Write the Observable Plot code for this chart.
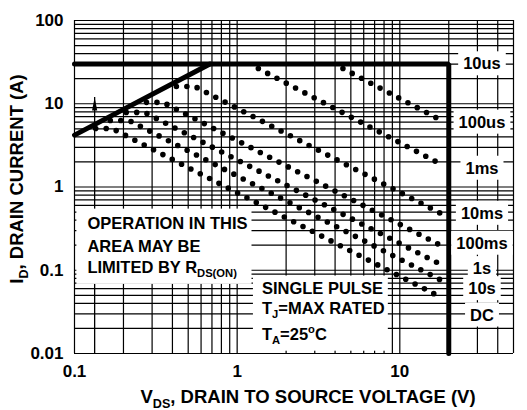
<!DOCTYPE html>
<html><head><meta charset="utf-8">
<script src="https://cdn.jsdelivr.net/npm/d3@7"></script>
<script src="https://cdn.jsdelivr.net/npm/@observablehq/plot@0.6"></script>
<style>
html,body{margin:0;padding:0;background:#fff;}
#chart svg{display:block;}
</style></head><body><div id="chart"></div>
<script>
// ---- axes ----
const xTicks = [0.1, 1, 10, 50];
const xTickLabels = ["0.1", "1", "10", "50"];
const yTicks = [0.01, 0.1, 1, 10, 100];
const yTickLabels = ["0.01", "0.1", "1", "10", "100"];
const xGrid = [0.1,0.2,0.3,0.4,0.5,0.6,0.7,0.8,0.9,1,2,3,4,5,6,7,8,9,10,20,30,40,50];
const yGrid = [0.01,0.02,0.03,0.04,0.05,0.06,0.07,0.08,0.09,0.1,0.2,0.3,0.4,0.5,0.6,0.7,0.8,0.9,1,2,3,4,5,6,7,8,9,10,20,30,40,50,60,70,80,90,100];

// ---- limit lines (V, A) ----
const rdsV = [0.1, 0.68];
const rdsI = [4.2, 30];
const limitV = [0.1, 20, 20];
const limitI = [30, 30, 0.01];
const arrowV = 0.133;
const arrowI = [0.01, 11.9];

// ---- pulse curves (dotted), vertices ----
const curveNames = ["100us", "1ms", "10ms", "100ms", "1s", "10s", "DC"];
const curveV = [
  [4.47, 17.1],
  [1.35, 17.1],
  [0.423, 0.55, 17.9],
  [0.277, 0.35, 17.3],
  [0.208, 0.27, 17.3],
  [0.166, 0.216, 18.0],
  [0.135, 0.17, 18.0]
];
const curveI = [
  [26.5, 6.66],
  [26.5, 1.97],
  [16.1, 16.1, 0.48],
  [10.4, 10.4, 0.205],
  [7.87, 7.87, 0.121],
  [6.3, 6.3, 0.0757],
  [5.05, 5.05, 0.047]
];

// ---- labels ----
const labelNames = ["10us", "100us", "1ms", "10ms", "100ms", "1s", "10s", "DC"];
const labelI = [30, 5.97, 1.67, 0.48, 0.21, 0.104, 0.0597, 0.0288];
const labelV = 32;
const noteLines = ["OPERATION IN THIS", "AREA MAY BE", "LIMITED BY R_{DS(ON)}"];
const noteI = [0.366, 0.194, 0.108];
const noteV = 0.12;
const condLines = ["SINGLE PULSE", "T_{J}=MAX RATED", "T_{A}=25^{o}C"];
const condI = [0.0607, 0.0349, 0.017];
const condV = 1.42;
const xTitle = "V_{DS}, DRAIN TO SOURCE VOLTAGE (V)";
const yTitle = "I_{D}, DRAIN CURRENT (A)";

// ---- build tables ----
const curveRows = curveNames.flatMap((name, k) => curveV[k].map((v, j) => ({curve: name, V: v, I: curveI[k][j]})));
const rdsRows = rdsV.map((v, j) => ({V: v, I: rdsI[j]}));
const limitRows = limitV.map((v, j) => ({V: v, I: limitI[j]}));
const labelRows = labelNames.map((t, j) => ({t, V: labelV, I: labelI[j]}));
const noteRows = noteLines.map((t, j) => ({t, V: noteV, I: noteI[j]}));
const condRows = condLines.map((t, j) => ({t, V: condV, I: condI[j]}));

const FONT = "'Liberation Sans', Arial, Helvetica, sans-serif";
const arrowHead = {draw(ctx) { ctx.moveTo(0, 0); ctx.lineTo(-2.6, 13); ctx.lineTo(2.6, 13); ctx.closePath(); }};

const chart = Plot.plot({
  width: 527, height: 410,
  marginLeft: 74, marginRight: 14, marginTop: 20, marginBottom: 57,
  style: {fontFamily: FONT, fontSize: "17px", fontWeight: "bold", background: "#fff", color: "#000"},
  x: {type: "log", domain: [0.1, 50], ticks: xTicks, tickFormat: d => xTickLabels[xTicks.indexOf(d)], tickSize: 0, tickPadding: 11, label: null},
  y: {type: "log", domain: [0.01, 100], ticks: yTicks, tickFormat: d => yTickLabels[yTicks.indexOf(d)], tickSize: 0, tickPadding: 11, label: null},
  marks: [
    Plot.ruleX(xGrid, {stroke: "#000", strokeWidth: 1.2}),
    Plot.ruleY(yGrid, {stroke: "#000", strokeWidth: 1.2}),
    Plot.line(curveRows, {x: "V", y: "I", z: "curve", stroke: "#000", strokeWidth: 5.6, strokeDasharray: "0,10.5", strokeLinecap: "round", fill: "none"}),
    Plot.line(rdsRows, {x: "V", y: "I", stroke: "#000", strokeWidth: 5}),
    Plot.line(limitRows, {x: "V", y: "I", stroke: "#000", strokeWidth: 5, strokeLinejoin: "miter"}),
    Plot.ruleX([{V: arrowV, I1: arrowI[0], I2: arrowI[1]}], {x: "V", y1: "I1", y2: "I2", stroke: "#000", strokeWidth: 1.3}),
    Plot.dot([{V: arrowV, I: arrowI[1]}], {x: "V", y: "I", symbol: arrowHead, fill: "#000", stroke: "none", r: 3}),
    Plot.text(labelRows, {x: "V", y: "I", text: "t", fontSize: 16.5, fontWeight: "bold", fill: "#000"}),
    Plot.text(noteRows, {x: "V", y: "I", text: "t", textAnchor: "start", fontSize: 16.5, fontWeight: "bold", fill: "#000"}),
    Plot.text(condRows, {x: "V", y: "I", text: "t", textAnchor: "start", fontSize: 16.5, fontWeight: "bold", fill: "#000"}),
    Plot.text([xTitle], {frameAnchor: "bottom", textAnchor: "middle", lineAnchor: "middle", dx: 14, dy: 44, text: d => d, fontSize: 18.5, fontWeight: "bold", fill: "#000"}),
    Plot.text([yTitle], {frameAnchor: "left", textAnchor: "middle", lineAnchor: "middle", dx: -57, dy: -8, rotate: -90, text: d => d, fontSize: 18.5, fontWeight: "bold", fill: "#000"})
  ]
});
document.getElementById("chart").appendChild(chart);

// ---- rich text: subscripts/superscripts ----
const NS = "http://www.w3.org/2000/svg";
chart.querySelectorAll("text").forEach(el => {
  const raw = el.textContent;
  if (!/[_^]\{/.test(raw)) return;
  el.setAttribute("data-raw", raw);
  const fs = parseFloat(el.getAttribute("font-size") || el.parentNode.getAttribute("font-size") || 16);
  while (el.firstChild) el.removeChild(el.firstChild);
  let cur = 0, last = 0, m;
  const re = /([_^])\{([^}]*)\}/g;
  const add = (txt, target, small) => {
    const t = document.createElementNS(NS, "tspan");
    t.textContent = txt;
    if (small) t.setAttribute("font-size", (fs * 0.68).toFixed(1));
    if (target !== cur) t.setAttribute("dy", (target - cur).toFixed(2));
    cur = target;
    el.appendChild(t);
  };
  while ((m = re.exec(raw))) {
    if (m.index > last) add(raw.slice(last, m.index), 0, false);
    add(m[2], m[1] === "_" ? fs * 0.25 : -fs * 0.38, true);
    last = re.lastIndex;
  }
  if (last < raw.length) add(raw.slice(last), 0, false);
});
chart.querySelectorAll("text").forEach(el => { if (!el.hasAttribute("data-raw")) el.setAttribute("data-raw", el.textContent); });

// ---- white boxes behind labels ----
const boxGroups = [
  ...labelNames.map(n => ({texts: [n], pad: [5, 5, 3, 3]})),
  {texts: noteLines, pad: [11, 4, 5, 5]},
  {texts: condLines, pad: [9, 3, 3, 5]}
];
const sb = chart.getBoundingClientRect();
const allTexts = Array.from(chart.querySelectorAll("text"));
const find = s => allTexts.find(e => e.getAttribute("data-raw") === s);
const boxG = document.createElementNS(NS, "g");
boxGroups.forEach(g => {
  const els = g.texts.map(find).filter(Boolean);
  if (!els.length) return;
  let x0 = Infinity, y0 = Infinity, x1 = -Infinity, y1 = -Infinity;
  els.forEach(e => { const r = e.getBoundingClientRect(); x0 = Math.min(x0, r.left); y0 = Math.min(y0, r.top); x1 = Math.max(x1, r.right); y1 = Math.max(y1, r.bottom); });
  const [pl, pr, pt, pb] = g.pad;
  const rect = document.createElementNS(NS, "rect");
  rect.setAttribute("x", x0 - sb.left - pl);
  rect.setAttribute("y", y0 - sb.top - pt);
  rect.setAttribute("width", x1 - x0 + pl + pr);
  rect.setAttribute("height", y1 - y0 + pt + pb);
  rect.setAttribute("fill", "#fff");
  boxG.appendChild(rect);
});
let anchor = find(labelNames[0]);
while (anchor && anchor.parentNode !== chart) anchor = anchor.parentNode;
if (anchor) chart.insertBefore(boxG, anchor); else chart.appendChild(boxG);
</script>
</body></html>
